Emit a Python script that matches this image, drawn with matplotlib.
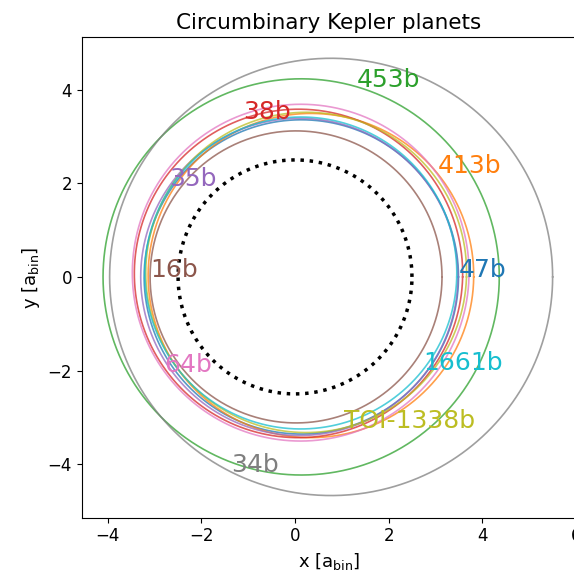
import numpy as np
import matplotlib
matplotlib.use("Agg")
import matplotlib.pyplot as plt

# Circumbinary planets: orbits in units of the binary semi-major axis
names = ["47b", "413b", "453b", "38b", "35b", "16b", "64b", "34b", "TOI-1338b", "1661b"]
semi_major = [3.36, 3.48, 4.235, 3.51, 3.39, 3.12, 3.60, 4.735, 3.43, 3.335]
eccentricity = [0.040, 0.098, 0.031, 0.030, 0.027, 0.007, 0.042, 0.163, 0.075, 0.045]
periapsis_deg = [180, 185, 180, 225, 180, 180, 217, 180, 202, 214]

# reference circle (critical stability radius)
crit_radius = 2.5

plt.rcParams["xtick.labelsize"] = 12
plt.rcParams["ytick.labelsize"] = 12

fig = plt.figure(figsize=(5.74, 5.78), dpi=100)
ax = fig.add_axes([81.7 / 574, 60.3 / 578, 494.0 / 574, 480.4 / 578])

theta = np.linspace(0, 2 * np.pi, 721)
n = len(names)
for i, (name, a, e, w) in enumerate(zip(names, semi_major, eccentricity, periapsis_deg)):
    wr = np.deg2rad(w)
    r = a * (1 - e ** 2) / (1 + e * np.cos(theta - wr))
    line, = ax.plot(r * np.cos(theta), r * np.sin(theta), lw=1.2, alpha=0.75)
    # label placed on the orbit, spread evenly in angle
    th = 2 * np.pi * i / n
    rl = a * (1 - e ** 2) / (1 + e * np.cos(th - wr))
    ax.text(rl * np.cos(th), rl * np.sin(th), name, color=line.get_color(), fontsize=18)

ax.plot(crit_radius * np.cos(theta), crit_radius * np.sin(theta), ls=":", color="k", lw=2.5)

ax.set_xlim(-4.56, 6.0)
ax.set_ylim(-5.145, 5.12)
ax.set_xticks([-4, -2, 0, 2, 4, 6])
ax.set_yticks([-4, -2, 0, 2, 4])
ax.set_xlabel(r"x [a$_\mathrm{bin}$]", fontsize=13)
ax.set_ylabel(r"y [a$_\mathrm{bin}$]", fontsize=13)
ax.set_title("Circumbinary Kepler planets", fontsize=15.5)

fig.savefig("out.png", dpi=100)
